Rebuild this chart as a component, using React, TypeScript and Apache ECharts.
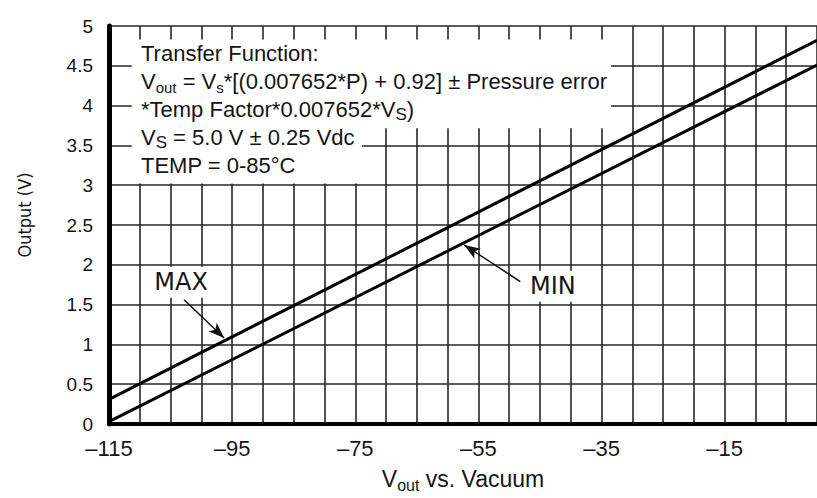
import React, { useEffect, useRef } from "react";
import * as echarts from "echarts";

// ---- data ----
const xMin = -115;
const xMax = 0;
const xStep = 5;
const xTickLabels = [-115, -95, -75, -55, -35, -15];
const yMin = 0;
const yMax = 5;
const yStep = 0.5;

const maxLine: [number, number][] = [
  [-115, 0.31],
  [0, 4.82],
];
const minLine: [number, number][] = [
  [-115, 0.03],
  [0, 4.51],
];

// annotation anchors (data coordinates)
const maxLabelAt: [number, number] = [-103.3, 1.78];
const minLabelAt: [number, number] = [-42.9, 1.73];
const maxArrow: [number, number][] = [
  [-102.8, 1.56],
  [-96.3, 1.08],
];
const minArrow: [number, number][] = [
  [-48.2, 1.79],
  [-57.3, 2.25],
];
// white box behind the transfer-function text (two rectangles)
const boxParts: [number, number, number, number][] = [
  [-111.3, 4.83, -73.9, 3.02],
  [-73.9, 4.83, -33.45, 3.715],
];

const boxText = [
  "{m|Transfer Function:}",
  "{m|V}{s|out}{m| = V}{s|s}{m|*[(0.007652*P) + 0.92] ± Pressure error}",
  "{m|*Temp Factor*0.007652*V}{S|S}{m|)}",
  "{m|V}{S|S}{m| = 5.0 V ± 0.25 Vdc}",
  "{m|TEMP = 0-85°C}",
];

const TXT = "#151515";
const ARIAL = '"Liberation Sans", Arial, sans-serif';
const NARROW = '"Liberation Sans Narrow", "Arial Narrow", "DejaVu Sans Condensed", sans-serif';

export default function App() {
  const ref = useRef<HTMLDivElement>(null);
  useEffect(() => {
    if (!ref.current) return;
    const chart = echarts.init(ref.current, null, { renderer: "svg" });
    chart.setOption({
      animation: false,
      backgroundColor: "#fff",
      grid: { left: 109, right: -8, top: 26, bottom: 68.4, containLabel: false },
      xAxis: {
        type: "value",
        min: xMin,
        max: xMax,
        interval: xStep,
        name: "{a|V}{s|out}{a| vs. Vacuum}",
        nameLocation: "middle",
        nameGap: 41,
        nameTextStyle: {
          color: TXT,
          fontFamily: ARIAL,
          rich: {
            a: { fontSize: 23, lineHeight: 28, fontFamily: ARIAL, color: TXT },
            s: { fontSize: 16, lineHeight: 12, verticalAlign: "bottom", fontFamily: ARIAL, color: TXT },
          },
        },
        axisLine: { onZero: false, lineStyle: { color: "#000", width: 4 } },
        axisTick: { show: false },
        axisLabel: {
          margin: 13,
          fontSize: 22,
          fontFamily: ARIAL,
          color: TXT,
          showMaxLabel: false,
          formatter: (v: number) => (xTickLabels.includes(Math.round(v)) ? "\u2013" + Math.abs(Math.round(v)) : ""),
        },
        splitLine: { show: true, lineStyle: { color: "#262626", width: 1.6 } },
      },
      yAxis: {
        type: "value",
        min: yMin,
        max: yMax,
        interval: yStep,
        name: "Output (V)",
        nameLocation: "middle",
        nameGap: 76,
        nameTextStyle: { color: TXT, fontFamily: NARROW, fontSize: 18, padding: [0, 0, 0, 20] },
        axisLine: { onZero: false, lineStyle: { color: "#000", width: 5 } },
        axisTick: { show: false },
        axisLabel: { margin: 16, fontSize: 19, fontFamily: ARIAL, color: TXT },
        splitLine: { show: true, lineStyle: { color: "#262626", width: 1.6 } },
      },
      series: [
        {
          name: "MAX",
          type: "line",
          data: maxLine,
          symbol: "none",
          lineStyle: { color: "#000", width: 3 },
          markArea: {
            silent: true,
            itemStyle: { color: "#fff", borderWidth: 0 },
            label: { show: false },
            data: boxParts.map((b) => [{ coord: [b[0], b[1]] }, { coord: [b[2], b[3]] }]),
          },
          markLine: {
            silent: true,
            symbol: ["none", "arrow"],
            symbolSize: 13,
            lineStyle: { color: "#111", width: 1.5, type: "solid" },
            label: { show: false },
            data: [maxArrow, minArrow].map((a) => [
              { coord: a[0], symbol: "none" },
              { coord: a[1], symbol: "arrow", symbolSize: [9, 16] },
            ]),
          },
          markPoint: {
            silent: true,
            symbol: "rect",
            symbolSize: 1,
            itemStyle: { color: "rgba(0,0,0,0)" },
            label: {
              show: true,
              position: "inside",
              formatter: "{b}",
              fontFamily: '"DejaVu Sans", Verdana, sans-serif',
              fontSize: 24,
              color: TXT,
              backgroundColor: "#fff",
              padding: [4, 5, 3, 5],
            },
            data: [
              { name: "MAX", coord: maxLabelAt },
              { name: "MIN", coord: minLabelAt },
            ],
          },
        },
        {
          name: "MIN",
          type: "line",
          data: minLine,
          symbol: "none",
          lineStyle: { color: "#000", width: 3 },
        },
      ],
      graphic: [
        {
          type: "text",
          left: 141,
          top: 42,
          z: 100,
          style: {
            text: boxText.join("\n"),
            fill: TXT,
            font: "22px " + ARIAL,
            rich: {
              m: { fontSize: 22, lineHeight: 28, fontFamily: ARIAL, fill: TXT },
              s: { fontSize: 15, lineHeight: 16, verticalAlign: "bottom", fontFamily: ARIAL, fill: TXT },
              S: { fontSize: 17, lineHeight: 14, verticalAlign: "bottom", fontFamily: ARIAL, fill: TXT },
            },
          },
        },
      ],
    });
    return () => chart.dispose();
  }, []);
  return (
    <div
      ref={ref}
      style={{ position: "absolute", left: 0, top: 0, width: 817, height: 498 }}
    />
  );
}
